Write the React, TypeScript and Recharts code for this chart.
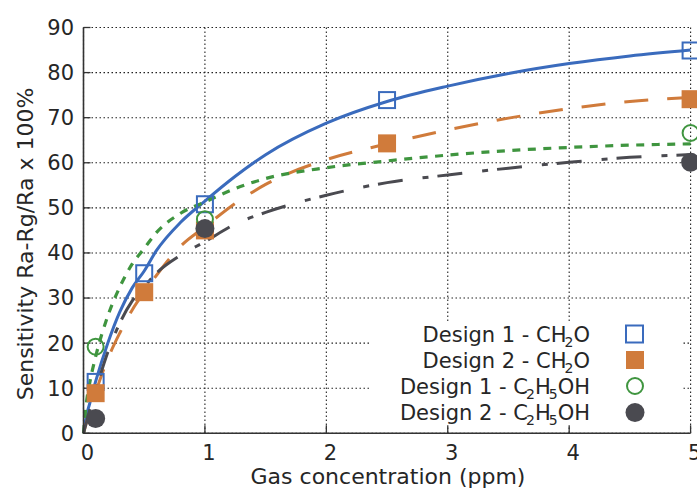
import React from 'react';
import {
  ComposedChart,
  Line,
  Scatter,
  XAxis,
  YAxis,
  CartesianGrid,
  Legend,
} from 'recharts';

// fitted curves at these concentrations (ppm)
const CURVE_X = [0, 0.025, 0.05, 0.1, 0.2, 0.3, 0.4, 0.5, 0.6, 0.8, 1, 1.25, 1.5, 2, 2.5, 3, 3.5, 4, 4.5, 5];
const FIT_D1_CH2O = [0, 4, 6.5, 11.5, 20, 27, 32.2, 36, 40.5, 46.8, 51.5, 57, 61.8, 68.8, 73.6, 77, 79.8, 82, 83.7, 85];
const FIT_D2_CH2O = [0, 2.5, 4.5, 9, 16.5, 22.3, 27.3, 31.3, 35, 41.5, 45.8, 51, 55.2, 60.7, 64.2, 67.3, 69.9, 72, 73.6, 74.5];
const FIT_D1_ETOH = [0, 7, 11, 17, 26, 32.5, 37.5, 41, 44.5, 48.8, 51.3, 54.3, 56.5, 58.9, 60.4, 61.7, 62.7, 63.4, 63.9, 64.2];
const FIT_D2_ETOH = [0, 2.5, 5, 9.5, 18, 24.5, 29.3, 32.5, 35.5, 39.5, 42.5, 46.4, 49, 52.8, 55.6, 57.3, 58.8, 60.1, 61.2, 61.8];

// measured points
const CH2O_X = [0.1, 0.5, 1, 2.5, 5];
const D1_CH2O = [11.4, 35.5, 50.8, 73.9, 84.9];
const D2_CH2O = [8.9, 31.3, 45, 64.3, 74.1];
const ETOH_X = [0.1, 1, 5];
const D1_ETOH = [19.2, 47.5, 66.6];
const D2_ETOH = [3.3, 45.4, 60.1];

const X_TICKS = [0, 1, 2, 3, 4, 5];
const Y_TICKS = [0, 10, 20, 30, 40, 50, 60, 70, 80, 90];

const BLUE = '#3a6bbd';
const ORANGE = '#d07b3b';
const GREEN = '#3f953f';
const GREY = '#4a4a50';
const INK = '#262626';
const FONT = '"DejaVu Sans", sans-serif';

const curveData = CURVE_X.map((x, i) => ({
  x,
  d1ch: FIT_D1_CH2O[i],
  d2ch: FIT_D2_CH2O[i],
  d1et: FIT_D1_ETOH[i],
  d2et: FIT_D2_ETOH[i],
}));
const pts = (xs: number[], ys: number[]) => xs.map((x, i) => ({ x, y: ys[i] }));

const OpenSquare = (p: any) => (
  <rect x={p.cx - 8} y={p.cy - 8} width={16} height={16} fill="none" stroke={BLUE} strokeWidth={2} />
);
const FilledSquare = (p: any) => (
  <rect x={p.cx - 9} y={p.cy - 9} width={18} height={18} fill={ORANGE} />
);
const OpenCircle = (p: any) => (
  <circle cx={p.cx} cy={p.cy} r={8} fill="none" stroke={GREEN} strokeWidth={2} />
);
const FilledCircle = (p: any) => <circle cx={p.cx} cy={p.cy} r={9.5} fill={GREY} />;

const BottomTick = (p: any) => (
  <text x={p.x + 4} y={p.y} dy="0.71em" textAnchor="middle" fontSize={21} fontFamily={FONT} fill={INK}>
    {p.payload.value}
  </text>
);
const noTick = () => <g />;

// gnuplot-style subscript: small, dropped, tucked under the previous letter
const Sub = ({ s }: { s: string }) => (
  <tspan dx={-2} dy={5} fontSize={14}>{s}</tspan>
);

const KeyBox = () => {
  const ys = [12, 38, 64, 90.5];
  const labels = [
    <>Design 1 - CH<Sub s="2" /><tspan dy={-5}>O</tspan></>,
    <>Design 2 - CH<Sub s="2" /><tspan dy={-5}>O</tspan></>,
    <>Design 1 - C<Sub s="2" /><tspan dy={-5}>H</tspan><Sub s="5" /><tspan dy={-5}>OH</tspan></>,
    <>Design 2 - C<Sub s="2" /><tspan dy={-5}>H</tspan><Sub s="5" /><tspan dy={-5}>OH</tspan></>,
  ];
  const marks = [
    <rect x={256} y={3.5} width={17} height={17} fill="none" stroke={BLUE} strokeWidth={2} />,
    <rect x={256} y={29} width={18} height={18} fill={ORANGE} />,
    <circle cx={265} cy={64} r={8} fill="none" stroke={GREEN} strokeWidth={2} />,
    <circle cx={265} cy={90.5} r={9.5} fill={GREY} />,
  ];
  return (
    <svg width={312} height={103} style={{ display: 'block', background: '#fff', overflow: 'visible' }}>
      {labels.map((l, i) => (
        <g key={i}>
          <text x={220} y={ys[i]} dy="0.36em" textAnchor="end" fontSize={21} fontFamily={FONT} fill={INK}>
            {l}
          </text>
          {marks[i]}
        </g>
      ))}
    </svg>
  );
};

export default function App() {
  return (
    <div style={{ position: 'absolute', left: 0, top: 0, width: 697, height: 488, background: '#fff' }}>
      <ComposedChart
        width={697}
        height={488}
        data={curveData}
        margin={{ top: 27.5, right: 6.4, bottom: 0, left: 0 }}
      >
        <CartesianGrid stroke="#222" strokeDasharray="1.5 2.5" strokeWidth={1.1} />
        <XAxis
          dataKey="x"
          type="number"
          domain={[0, 5]}
          ticks={X_TICKS}
          height={54.7}
          tickSize={-8}
          tickMargin={20}
          tick={BottomTick}
          axisLine={{ stroke: '#333', strokeWidth: 1.6 }}
          tickLine={{ stroke: '#333', strokeWidth: 1.3 }}
          label={{
            content: () => (
              <text x={388} y={484} textAnchor="middle" fontSize={22} fontFamily={FONT} fill={INK}>
                Gas concentration (ppm)
              </text>
            ),
          }}
        />
        <XAxis
          xAxisId="top"
          orientation="top"
          type="number"
          domain={[0, 5]}
          ticks={X_TICKS}
          height={0}
          tickSize={-8}
          tick={noTick}
          axisLine={{ stroke: '#333', strokeWidth: 1.6 }}
          tickLine={{ stroke: '#333', strokeWidth: 1.3 }}
        />
        <YAxis
          type="number"
          domain={[0, 90]}
          ticks={Y_TICKS}
          width={83.5}
          tickSize={-7}
          tickMargin={16.5}
          tick={{ fontSize: 21, fontFamily: FONT, fill: INK }}
          axisLine={{ stroke: '#333', strokeWidth: 1.6 }}
          tickLine={{ stroke: '#333', strokeWidth: 1.3 }}
          label={{
            content: () => (
              <text
                x={33}
                y={244}
                transform="rotate(-90 33 244)"
                textAnchor="middle"
                fontSize={22}
                fontFamily={FONT}
                fill={INK}
              >
                Sensitivity Ra-Rg/Ra x 100%
              </text>
            ),
          }}
        />
        <YAxis
          yAxisId="right"
          orientation="right"
          type="number"
          domain={[0, 90]}
          ticks={Y_TICKS}
          width={0}
          tickSize={-8}
          tick={noTick}
          axisLine={{ stroke: '#333', strokeWidth: 1.6 }}
          tickLine={{ stroke: '#333', strokeWidth: 1.3 }}
        />
        <Legend
          layout="horizontal"
          verticalAlign="middle"
          align="center"
          content={() => <KeyBox />}
          wrapperStyle={{ left: 370, top: 322, width: 312, height: 103 }}
        />

        <Line dataKey="d1ch" type="monotone" stroke={BLUE} strokeWidth={3} dot={false} isAnimationActive={false} />
        <Line dataKey="d2ch" type="monotone" stroke={ORANGE} strokeWidth={3} strokeDasharray="24 19" dot={false} isAnimationActive={false} />
        <Line dataKey="d1et" type="monotone" stroke={GREEN} strokeWidth={3.2} strokeDasharray="8 7.5" dot={false} isAnimationActive={false} />
        <Line dataKey="d2et" type="monotone" stroke={GREY} strokeWidth={3} strokeDasharray="25 20 6 9" dot={false} isAnimationActive={false} />

        <Scatter data={pts(CH2O_X, D1_CH2O)} dataKey="y" shape={OpenSquare} isAnimationActive={false} />
        <Scatter data={pts(CH2O_X, D2_CH2O)} dataKey="y" shape={FilledSquare} isAnimationActive={false} />
        <Scatter data={pts(ETOH_X, D1_ETOH)} dataKey="y" shape={OpenCircle} isAnimationActive={false} />
        <Scatter data={pts(ETOH_X, D2_ETOH)} dataKey="y" shape={FilledCircle} isAnimationActive={false} />
      </ComposedChart>
    </div>
  );
}
